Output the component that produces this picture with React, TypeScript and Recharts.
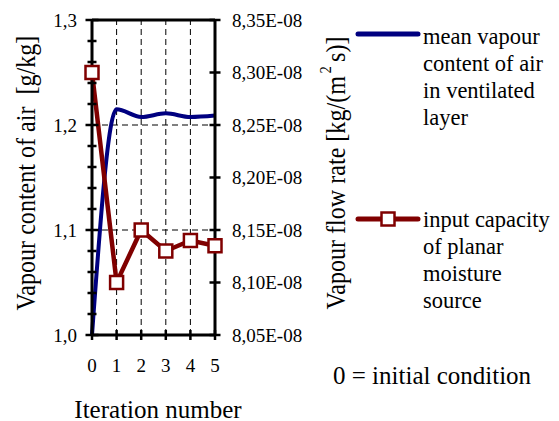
import React from 'react';
import { ComposedChart, Line, XAxis, YAxis, ReferenceLine } from 'recharts';

// Iteration steps (0 = initial condition)
const ITERATIONS = [0, 1, 2, 3, 4, 5];
// mean vapour content of air in ventilated layer [g/kg] (left axis)
const VAPOUR_CONTENT = [1.0, 1.215, 1.2076, 1.2111, 1.2076, 1.209];
// input capacity of planar moisture source [kg/(m2 s)] (right axis)
const INPUT_CAPACITY = [8.3e-8, 8.1e-8, 8.15e-8, 8.13e-8, 8.14e-8, 8.135e-8];

const LEFT_TICKS = [
  1.0, 1.02, 1.04, 1.06, 1.08, 1.1, 1.12, 1.14, 1.16, 1.18, 1.2, 1.22, 1.24, 1.26, 1.28, 1.3,
];
const RIGHT_TICKS = [8.05e-8, 8.1e-8, 8.15e-8, 8.2e-8, 8.25e-8, 8.3e-8, 8.35e-8];
const X_GRID = [1, 2, 3, 4];
const Y_GRID = [1.1, 1.2];

const LEGEND_VAPOUR = ['mean vapour', 'content of air', 'in ventilated', 'layer'];
const LEGEND_CAPACITY = ['input capacity', 'of planar', 'moisture', 'source'];

const DATA = ITERATIONS.map((it, i) => ({
  it,
  vapour: VAPOUR_CONTENT[i],
  capacity: INPUT_CAPACITY[i],
}));

const FONT = "'Liberation Serif', 'Times New Roman', serif";
const BLUE = '#000080';
const RED = '#800000';

const txt = { fontFamily: FONT, fill: '#000' };

const LeftTick = (props: any) => {
  const { x, y, payload } = props;
  const v = payload.value as number;
  const ax = x + 15;
  const major = Math.abs(v * 10 - Math.round(v * 10)) < 1e-6;
  const len = major ? 6.5 : 4.5;
  return (
    <g>
      <line x1={ax - len} x2={ax + len} y1={y} y2={y} stroke="#000" strokeWidth={2.5} />
      {major && (
        <text x={x} y={y} textAnchor="end" dominantBaseline="central" fontSize={19} style={txt}>
          {v.toFixed(1).replace('.', ',')}
        </text>
      )}
    </g>
  );
};

const RightTick = (props: any) => {
  const { x, y, payload } = props;
  const v = payload.value as number;
  const ax = x - 17;
  return (
    <g>
      <line x1={ax - 5.5} x2={ax + 5.5} y1={y} y2={y} stroke="#000" strokeWidth={2.5} />
      <text x={x} y={y} textAnchor="start" dominantBaseline="central" fontSize={19} style={txt}>
        {(v * 1e8).toFixed(2).replace('.', ',') + 'E-08'}
      </text>
    </g>
  );
};

const BottomTick = (props: any) => {
  const { x, y, payload } = props;
  return (
    <g>
      <line x1={x} x2={x} y1={y - 5} y2={y + 5} stroke="#000" strokeWidth={2.5} />
      <text x={x} y={y + 30} textAnchor="middle" dominantBaseline="central" fontSize={19} style={txt}>
        {String(payload.value)}
      </text>
    </g>
  );
};

const SquareDot = (props: any) => {
  const { cx, cy, index } = props;
  return (
    <rect key={'sq' + index} x={cx - 6.5} y={cy - 6.5} width={13} height={13} fill="#fff" stroke={RED} strokeWidth={2.5} />
  );
};

export default function App() {
  return (
    <div style={{ position: 'absolute', left: 0, top: 0, width: 559, height: 421, background: '#fff', fontFamily: FONT }}>
      <ComposedChart width={559} height={421} data={DATA} margin={{ top: 20, right: 214, bottom: 0, left: 0 }}>
        <XAxis
          dataKey="it"
          type="number"
          domain={[0, 5]}
          ticks={ITERATIONS}
          interval={0}
          height={86}
          tickSize={0}
          tickMargin={0}
          tickLine={false}
          axisLine={{ stroke: '#000', strokeWidth: 3 }}
          tick={BottomTick}
        />
        <YAxis
          yAxisId="left"
          type="number"
          domain={[1, 1.3]}
          ticks={LEFT_TICKS}
          interval={0}
          width={92}
          tickSize={0}
          tickMargin={15}
          tickLine={false}
          axisLine={{ stroke: '#000', strokeWidth: 3 }}
          tick={LeftTick}
        />
        <YAxis
          yAxisId="right"
          orientation="right"
          type="number"
          domain={[8.05e-8, 8.35e-8]}
          ticks={RIGHT_TICKS}
          interval={0}
          width={130}
          tickSize={0}
          tickMargin={17}
          tickLine={false}
          axisLine={{ stroke: '#000', strokeWidth: 3 }}
          tick={RightTick}
        />
        {Y_GRID.map((v) => (
          <ReferenceLine key={'gy' + v} yAxisId="left" y={v} stroke="#000" strokeWidth={1} strokeDasharray="6 4" />
        ))}
        {X_GRID.map((v) => (
          <ReferenceLine key={'gx' + v} yAxisId="left" x={v} stroke="#000" strokeWidth={1} strokeDasharray="6 4" />
        ))}
        <ReferenceLine yAxisId="left" y={1.3} stroke="#000" strokeWidth={3} />
        <Line
          yAxisId="left"
          dataKey="vapour"
          type="monotone"
          stroke={BLUE}
          strokeWidth={4}
          dot={false}
          isAnimationActive={false}
        />
        <Line
          yAxisId="right"
          dataKey="capacity"
          type="linear"
          stroke={RED}
          strokeWidth={4.5}
          dot={SquareDot}
          isAnimationActive={false}
        />
      </ComposedChart>
      <svg
        width={559}
        height={421}
        style={{ position: 'absolute', left: 0, top: 0, pointerEvents: 'none', fontFamily: FONT }}
      >
        {/* axis titles: glyphs are taller than the text is long in the original, so squeeze along the run */}
        <g transform="translate(25.5 173) rotate(-90) scale(0.86 1)">
          <text x={0} y={0} textAnchor="middle" dominantBaseline="central" fontSize={28} style={{ ...txt, whiteSpace: 'pre' }}>
            {'Vapour content of air  [g/kg]'}
          </text>
        </g>
        <g transform="translate(335.5 173) rotate(-90) scale(0.86 1)">
          <text x={0} y={0} textAnchor="middle" dominantBaseline="central" fontSize={28} style={txt}>
            {'Vapour flow rate [kg/(m'}
            <tspan fontSize={17} dx={3} dy={-11}>2</tspan>
            <tspan dx={5} dy={11}>{'s)]'}</tspan>
          </text>
        </g>
        <text x={158} y={409} textAnchor="middle" dominantBaseline="central" fontSize={25} style={txt}>
          Iteration number
        </text>
        <text x={333} y={384} fontSize={25} style={txt}>
          0 = initial condition
        </text>

        <line x1={358} x2={418} y1={34} y2={34} stroke={BLUE} strokeWidth={5} strokeLinecap="round" />
        {LEGEND_VAPOUR.map((t, i) => (
          <text key={t} x={423} y={44 + i * 27} fontSize={22.5} style={txt}>
            {t}
          </text>
        ))}

        <line x1={358} x2={418} y1={219} y2={219} stroke={RED} strokeWidth={5} strokeLinecap="round" />
        <rect x={381.5} y={212.5} width={13} height={13} fill="#fff" stroke={RED} strokeWidth={2.5} />
        {LEGEND_CAPACITY.map((t, i) => (
          <text key={t} x={423} y={227 + i * 27} fontSize={22.5} style={txt}>
            {t}
          </text>
        ))}
      </svg>
    </div>
  );
}
